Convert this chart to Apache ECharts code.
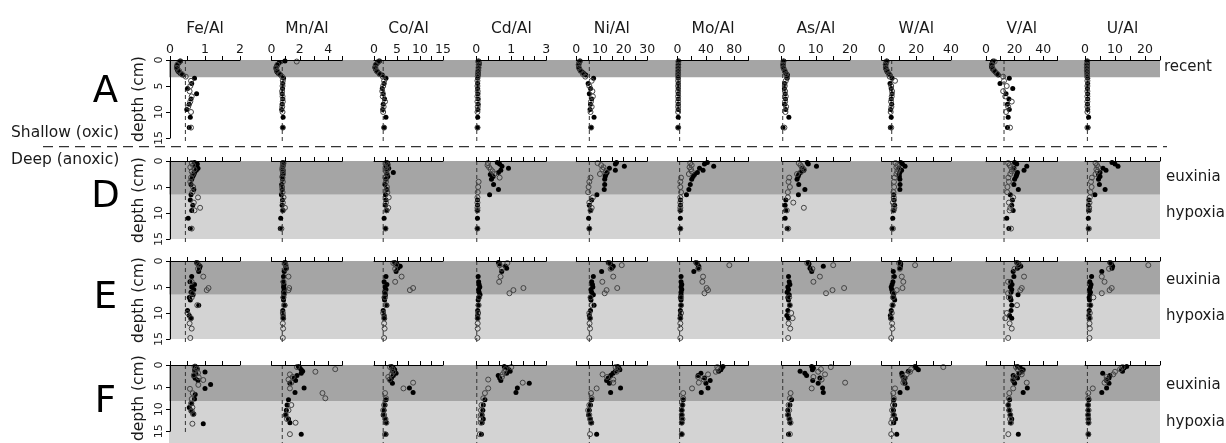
<!DOCTYPE html>
<html><head><meta charset="utf-8">
<script src="https://cdn.jsdelivr.net/npm/echarts@6/dist/echarts.min.js"></script>
<style>html,body{margin:0;padding:0;background:#fff}#c{width:1226px;height:443px}</style>
</head><body><div id="c"></div>
<script>
// ---------- categories / axes ----------
const elements = ['Fe/Al','Mn/Al','Co/Al','Cd/Al','Ni/Al','Mo/Al','As/Al','W/Al','V/Al','U/Al'];
const axisMax  = [2, 5, 15, 3, 30, 100, 20, 40, 50, 25];
const tickStep = [0.5, 1, 2.5, 0.5, 5, 20, 5, 10, 10, 5];
const labelValues = [[0,1,2],[0,2,4],[0,5,10,15],[0,1.5,3],[0,10,20,30],[0,40,80],[0,10,20],[0,20,40],[0,20,40],[0,10,20]];
const labelTexts  = [['0','1','2'],['0','2','4'],['0','5','10','15'],['0','1','3'],['0','10','20','30'],['0','40','80'],['0','10','20'],['0','20','40'],['0','20','40'],['0','10','20']];
const refValues = [0.44, 0.76, 2.0, 0.02, 5.5, 3, 0.3, 5.8, 12.6, 0.8];
const depthTicks = [0, 15, 5];
const rowLetters = ['A','D','E','F'];
const bandDarkBottom = [3.3, 6.5, 6.5, 6.9];
const bandLight = [false, true, true, true];

// ---------- depths (cm) ----------
const A_depth_f = [0.2,0.5,0.8,1.1,1.4,1.7,2.0,2.3,2.6,2.9,3.5,4.5,5.5,6.5,7.5,8.5,9.5,11,13];
const A_depth_o = [0.3,0.9,1.5,2.1,2.7,3.2,4.0,5.0,6.0,7.0,8.0,9.0,10.0,13.0];
const D_depth_f = [0.3,0.6,1.0,1.4,1.8,2.2,2.6,3.0,3.5,4.5,5.5,6.5,7.5,8.5,9.5,11,13];
const D_depth_o = [0.4,0.8,1.2,1.6,2.0,2.5,3.2,4.0,5.0,6.0,7.0,8.0,9.0,9.5,13];
const E_depth_f = [0.3,0.6,1.0,1.4,2.0,3.0,4.0,4.5,5.0,5.5,6.0,6.5,7.0,7.5,8.5,9.5,10.5,11.0];
const E_depth_o = [0.4,0.8,1.5,3.0,4.0,5.2,5.6,6.2,7.0,8.5,10.0,11.0,12.0,13.0,14.8];
const F_depth_f = [0.3,0.6,0.9,1.2,1.6,2.0,2.5,3.0,3.5,4.4,5.3,6.7,7.7,8.7,9.6,10.4,11.1,13.3];
const F_depth_o = [0.4,0.8,1.3,1.8,2.3,2.8,3.4,4.5,5.4,6.4,7.7,8.7,9.6,10.4,11.1,13.3];

// ---------- row A (shallow, oxic) ----------
const A_Fe_f = [0.30,0.26,0.22,0.20,0.19,0.20,0.22,0.25,0.30,0.36,0.70,0.62,0.50,0.76,0.60,0.55,0.48,0.58,0.55];
const A_Fe_o = [0.28,0.21,0.20,0.26,0.34,0.45,0.60,0.58,0.56,0.62,0.58,0.52,0.60,0.60];
const A_Mn_f = [0.95,0.55,0.45,0.38,0.33,0.32,0.35,0.40,0.50,0.65,0.85,0.80,0.78,0.75,0.80,0.75,0.72,0.82,0.80];
const A_Mn_o = [1.78,0.42,0.34,0.40,0.58,0.75,0.80,0.78,0.75,0.78,0.80,0.76,0.78,0.80];
const A_Co_f = [1.2,0.8,0.5,0.3,0.2,0.3,0.5,0.8,1.2,1.8,2.6,2.2,1.8,2.0,2.3,2.0,1.9,2.6,2.2];
const A_Co_o = [1.0,0.4,0.3,0.6,1.2,1.9,2.2,2.0,1.8,1.9,2.4,2.1,2.0,2.2];
const A_Cd_f = [0.10,0.12,0.12,0.10,0.10,0.10,0.10,0.08,0.08,0.08,0.06,0.06,0.06,0.07,0.08,0.08,0.07,0.06,0.06];
const A_Cd_o = [0.08,0.10,0.09,0.08,0.07,0.06,0.05,0.05,0.06,0.05,0.05,0.06,0.05,0.05];
const A_Ni_f = [1.6,1.2,1.0,0.9,1.0,1.3,1.8,2.5,3.2,4.0,7.3,5.0,6.0,5.5,6.5,6.0,5.8,7.5,6.2];
const A_Ni_o = [1.4,1.0,1.1,1.8,2.8,3.8,6.5,5.5,6.8,7.0,6.2,6.5,6.0,6.3];
const A_Mo_f = [1.5,1.5,1.4,1.3,1.2,1.2,1.2,1.1,1.1,1.0,1.0,1.0,1.0,1.0,1.0,1.0,1.0,1.0,1.0];
const A_Mo_o = [1.2,1.1,1.0,1.0,1.0,0.9,0.9,0.9,0.9,0.9,0.9,0.9,0.9,0.9];
const A_As_f = [0.6,0.5,0.4,0.4,0.5,0.6,0.8,1.0,1.3,1.7,1.6,0.9,0.8,1.0,1.1,0.9,1.2,2.1,0.4];
const A_As_o = [0.5,0.4,0.5,0.9,1.3,1.5,1.2,0.9,1.0,1.2,1.0,1.3,1.1,0.8];
const A_W_f  = [3.0,2.6,2.3,2.2,2.2,2.4,2.8,3.3,4.0,4.8,6.0,4.8,5.5,6.0,5.5,5.8,5.2,5.5,5.0];
const A_W_o  = [2.8,2.3,2.4,3.2,4.2,4.6,7.7,5.5,6.0,5.8,5.4,5.6,5.2,5.5];
const A_V_f  = [5.0,4.5,4.0,3.8,4.0,4.5,5.5,6.5,7.5,8.6,16.3,9.8,18.7,14.0,16.0,15.0,16.3,15.5,15.0];
const A_V_o  = [6.0,4.2,4.5,6.0,8.0,12.0,12.6,14.5,12.0,13.5,18.0,15.5,14.0,16.8];
const A_U_f  = [0.8,0.8,0.7,0.7,0.7,0.7,0.7,0.7,0.8,0.8,0.9,0.9,0.8,0.9,0.9,0.8,0.9,1.2,1.0];
const A_U_o  = [0.7,0.6,0.6,0.6,0.7,0.7,0.8,0.8,0.8,0.8,0.8,0.8,0.8,0.8];

// ---------- row D ----------
const D_Fe_f = [0.70,0.78,0.72,0.80,0.75,0.70,0.68,0.65,0.62,0.60,0.68,0.60,0.58,0.65,0.62,0.52,0.58];
const D_Fe_o = [0.62,0.66,0.58,0.70,0.62,0.65,0.60,0.58,0.66,0.64,0.80,0.68,0.86,0.70,0.62];
const D_Mn_f = [0.80,0.85,0.80,0.78,0.82,0.80,0.80,0.75,0.78,0.72,0.75,0.70,0.78,0.75,0.80,0.65,0.62];
const D_Mn_o = [0.85,0.80,0.78,0.75,0.80,0.82,0.78,0.80,0.75,0.78,0.85,0.80,0.95,0.80,0.70];
const D_Co_f = [2.8,3.0,2.6,3.2,2.8,4.2,2.8,3.0,2.6,2.4,2.8,2.5,2.6,2.5,2.8,2.2,2.5];
const D_Co_o = [2.6,3.0,2.5,2.8,2.6,2.8,2.5,2.6,2.8,2.9,3.2,2.6,3.1,2.7,2.5];
const D_Cd_f = [0.90,1.00,1.10,1.38,1.05,0.95,0.60,0.72,0.65,0.74,0.95,0.57,0.05,0.05,0.05,0.05,0.05];
const D_Cd_o = [0.50,0.48,0.55,0.62,0.70,0.78,1.00,0.10,0.08,0.06,0.05,0.05,0.05,0.05,0.05];
const D_Ni_f = [17.0,16.5,20.3,14.0,16.5,13.0,12.5,12.2,12.0,12.0,11.8,8.7,6.5,5.5,6.0,5.2,5.5];
const D_Ni_o = [9.0,10.5,11.5,11.0,12.5,10.0,6.0,5.5,5.2,5.0,7.0,5.5,6.5,6.0,5.5];
const D_Mo_f = [42,38,51,31,36,28,24,22,20,18,16,12.6,4,4,4,4,4];
const D_Mo_o = [18,20,17,19,20,16,5,4,4,5,4,4,4,4,4];
const D_As_f = [7.5,7.8,10.2,6.0,6.5,5.5,5.0,4.8,4.5,5.0,6.8,4.9,1.2,1.0,1.2,1.0,1.6];
const D_As_o = [5.0,5.5,6.0,6.5,5.8,4.5,2.2,2.0,2.4,1.8,1.8,3.4,6.5,1.5,1.9];
const D_W_f  = [11,12,13.5,10,11.5,10.5,10.0,10.2,10.5,10.6,10.5,7.0,7.2,7.5,7.0,6.4,6.0];
const D_W_o  = [8.0,9.0,8.5,9.6,9.0,8.5,7.5,7.1,7.2,6.8,7.0,6.5,7.3,6.8,6.5];
const D_V_f  = [20,21.5,28.5,19.5,26.6,22.0,21.5,21.0,20.0,19.5,22.6,17.0,18.5,18.0,19.0,14.5,16.0];
const D_V_o  = [15.5,16.5,17.5,19.0,18.0,17.0,15.6,16.0,15.0,14.8,19.0,16.0,17.0,16.5,17.5];
const D_U_f  = [9.0,10.0,11.0,6.0,7.0,5.0,4.5,5.0,4.5,4.8,6.7,3.3,1.3,1.2,1.2,1.1,1.1];
const D_U_o  = [3.5,4.0,4.4,3.8,4.2,3.5,2.3,2.0,2.2,1.8,1.6,1.5,1.4,1.4,1.3];

// ---------- row E ----------
const E_Fe_f = [0.76,0.80,0.86,0.84,0.82,0.62,0.57,0.70,0.62,0.68,0.60,0.66,0.55,0.58,0.82,0.50,0.55,0.60];
const E_Fe_o = [0.78,0.82,0.80,0.95,0.62,1.10,1.05,0.64,0.62,0.78,0.50,0.60,0.56,0.62,0.58];
const E_Mn_f = [0.95,0.95,1.0,1.05,0.90,0.85,0.82,0.88,0.85,0.90,0.85,0.88,0.82,0.85,0.95,0.80,0.82,0.85];
const E_Mn_o = [0.95,1.0,1.0,1.2,0.85,1.25,1.2,0.90,0.85,0.90,0.80,0.82,0.80,0.82,0.80];
const E_Co_f = [4.5,5.0,5.7,5.2,4.8,2.6,2.2,2.8,2.4,2.6,2.3,2.5,2.2,2.3,2.8,2.0,2.2,2.3];
const E_Co_o = [4.2,4.8,4.6,6.0,4.6,8.5,7.8,2.4,2.4,2.6,2.0,2.2,2.2,2.3,2.2];
const E_Cd_f = [0.95,1.0,1.25,1.3,1.09,0.08,0.10,0.12,0.15,0.10,0.12,0.16,0.10,0.08,0.08,0.06,0.06,0.06];
const E_Cd_o = [1.33,1.0,1.1,1.04,0.98,2.02,1.59,1.42,0.12,0.10,0.08,0.06,0.06,0.06,0.05];
const E_Ni_f = [13.5,14.5,15.6,15.0,10.7,7.2,6.5,6.8,7.0,6.2,6.5,7.2,6.0,6.2,7.5,6.0,5.5,5.8];
const E_Ni_o = [14.0,19.2,14.5,15.6,11.0,17.3,12.8,12.0,6.0,6.5,5.5,5.8,5.6,5.8,5.5];
const E_Mo_f = [26,28,30,29,23,5,5,6,5,6,5,5,4,5,5,4,4,4];
const E_Mo_o = [27,73,30,36,35,41,43,38,5,5,5,4,4,4,4];
const E_As_f = [7.8,8.0,12.2,8.3,8.8,2.0,2.2,2.4,1.8,2.0,1.6,2.2,1.8,2.0,2.3,1.8,1.5,2.0];
const E_As_o = [7.5,15.1,9.0,11.2,9.3,18.3,14.9,13.0,2.2,2.4,2.8,3.2,2.0,2.5,1.9];
const E_W_f  = [10.6,11.0,10.8,10.5,6.7,7.3,6.5,6.0,5.5,5.8,6.2,6.8,7.0,7.5,6.5,5.5,5.0,5.2];
const E_W_o  = [10.0,19.3,10.5,11.6,12.5,12.0,8.7,7.0,6.5,6.2,5.8,5.5,6.0,6.2,5.5];
const E_V_f  = [21.5,23,24.3,22,19,19.5,17.3,18.2,17,18,17.5,22.4,17,17.5,18.0,17.5,16.5,18.0];
const E_V_o  = [22,23,20,26.6,15.4,25,24,15.4,16.0,21.7,14.6,13.5,16.5,18.0,15.5];
const E_U_f  = [8.3,8.8,9.2,9.0,5.6,2.2,1.6,2.0,1.8,1.5,1.8,1.6,1.4,1.5,1.8,1.4,1.3,1.4];
const E_U_o  = [8.5,21.1,8.0,5.6,6.5,8.9,8.2,5.6,2.8,1.8,1.6,1.6,1.5,1.6,1.5];

// ---------- row F ----------
const F_Fe_f = [0.72,0.75,0.78,0.70,1.0,0.74,0.68,0.72,0.80,1.16,1.0,0.72,0.70,0.62,0.55,0.60,0.68,0.95];
const F_Fe_o = [0.70,0.76,0.72,0.80,0.68,0.82,0.95,0.81,0.57,0.65,0.62,0.60,0.64,0.62,0.66,0.64];
const F_Mn_f = [1.9,2.0,2.1,2.2,2.1,1.8,1.6,1.7,1.3,2.3,1.66,1.2,1.1,1.05,1.0,1.2,1.3,2.1];
const F_Mn_o = [1.8,4.5,3.1,1.3,1.5,1.2,1.4,1.3,3.6,3.8,1.4,1.2,1.0,1.1,1.7,1.3];
const F_Co_f = [3.8,4.2,4.5,4.0,4.8,4.2,3.8,3.6,4.0,7.7,8.5,2.6,2.4,2.2,2.0,2.4,2.6,2.6];
const F_Co_o = [3.5,4.0,4.2,3.8,3.1,3.4,8.5,6.4,2.4,2.6,2.2,2.0,2.2,2.5,2.7,2.4];
const F_Cd_f = [1.2,1.3,1.4,1.45,1.3,0.94,1.0,1.05,2.27,1.76,1.7,0.37,0.30,0.28,0.25,0.30,0.25,0.22];
const F_Cd_o = [1.5,1.25,1.2,1.13,1.1,0.51,1.99,0.51,0.37,0.30,0.22,0.20,0.20,0.18,0.20,0.15];
const F_Ni_f = [17.5,18,18.4,16.5,15.5,14.5,13.5,12.8,14.0,18.7,14.5,6.5,6.0,5.5,5.2,6.0,6.5,8.6];
const F_Ni_o = [16.6,17.5,17.0,11.1,13.0,15.6,15.6,8.6,6.2,6.5,5.5,5.0,5.5,5.8,6.2,5.8];
const F_Mo_f = [64,62,61,58,33,29,38,46,40,43,33.5,8,7,6,6,6,6,6];
const F_Mo_o = [56,57,54,43,29,37,30,20.5,8,8,7,6,6,7,6,6];
const F_As_f = [8.8,9.3,9.0,5.4,6.8,7.3,11.2,9.1,10.7,12.0,12.2,2.9,2.4,1.8,2.0,2.2,2.4,2.0];
const F_As_o = [14.4,11.5,10.7,12.7,9.3,11.7,18.6,8.8,2.6,2.4,2.0,2.2,1.8,2.3,2.6,2.4];
const F_W_f  = [19.3,20,21.2,15.4,11.6,11.8,13.5,13.0,13.5,14.8,10.6,7.0,7.5,6.8,7.2,8.0,7.0,8.7];
const F_W_o  = [35.6,17,16.4,14.4,12.3,12.9,12.5,7.7,6.7,7.0,6.5,6.0,6.8,6.2,5.5,5.5];
const F_V_f  = [22,24,26,25,23,19,22,18.9,20,28.9,26,16.5,15.6,16.0,17,18,17,22.6];
const F_V_o  = [21,22,25,25,20,19,28.5,19,16.3,16,15.6,16.5,17,16.8,17.5,15.6];
const F_U_f  = [13.9,13.0,12.2,12.5,5.9,8.3,8.0,7.2,8.0,7.2,5.6,1.3,1.1,1.0,1.1,1.2,1.1,1.2];
const F_U_o  = [12.5,11.7,10.0,9.4,7.2,7.2,6.5,2.6,1.1,1.1,1.0,1.2,1.0,1.1,1.2,1.1];

// ---------- lookup tables built from the arrays ----------
const depthsF = [A_depth_f, D_depth_f, E_depth_f, F_depth_f];
const depthsO = [A_depth_o, D_depth_o, E_depth_o, F_depth_o];
const table = [
  [[A_Fe_f,A_Fe_o],[A_Mn_f,A_Mn_o],[A_Co_f,A_Co_o],[A_Cd_f,A_Cd_o],[A_Ni_f,A_Ni_o],[A_Mo_f,A_Mo_o],[A_As_f,A_As_o],[A_W_f,A_W_o],[A_V_f,A_V_o],[A_U_f,A_U_o]],
  [[D_Fe_f,D_Fe_o],[D_Mn_f,D_Mn_o],[D_Co_f,D_Co_o],[D_Cd_f,D_Cd_o],[D_Ni_f,D_Ni_o],[D_Mo_f,D_Mo_o],[D_As_f,D_As_o],[D_W_f,D_W_o],[D_V_f,D_V_o],[D_U_f,D_U_o]],
  [[E_Fe_f,E_Fe_o],[E_Mn_f,E_Mn_o],[E_Co_f,E_Co_o],[E_Cd_f,E_Cd_o],[E_Ni_f,E_Ni_o],[E_Mo_f,E_Mo_o],[E_As_f,E_As_o],[E_W_f,E_W_o],[E_V_f,E_V_o],[E_U_f,E_U_o]],
  [[F_Fe_f,F_Fe_o],[F_Mn_f,F_Mn_o],[F_Co_f,F_Co_o],[F_Cd_f,F_Cd_o],[F_Ni_f,F_Ni_o],[F_Mo_f,F_Mo_o],[F_As_f,F_As_o],[F_W_f,F_W_o],[F_V_f,F_V_o],[F_U_f,F_U_o]]
];

// ---------- layout (pixels) ----------
const rowTop = [60, 161, 261, 365];
const rowH = 78;
const colLeft  = [170, 271.5, 374, 476.3, 576.3, 677.5, 781.7, 881.7, 986, 1085];
const colWidth = [70, 70.8, 69, 70, 71, 71, 68.2, 69.2, 71.5, 75];
const FONT = 'DejaVu Sans';
const TXT = '#1a1a1a';
const DARK = '#a5a5a5', LIGHT = '#d3d3d3';

function zip(vals, depths) {
  const n = Math.min(vals.length, depths.length), out = [];
  for (let i = 0; i < n; i++) out.push([vals[i], depths[i]]);
  return out;
}

const option = { animation: false, backgroundColor: '#fff', grid: [], xAxis: [], yAxis: [], series: [], graphic: [] };

// background bands, one full-width grid per row
for (let r = 0; r < 4; r++) {
  option.grid.push({ left: 169, top: rowTop[r], width: 991, height: rowH });
  option.xAxis.push({ gridIndex: r, type: 'value', show: false, min: 0, max: 1 });
  option.yAxis.push({ gridIndex: r, type: 'value', show: false, inverse: true, min: 0, max: 15 });
  const areas = [[{ yAxis: 0, itemStyle: { color: DARK, opacity: 1 } }, { yAxis: bandDarkBottom[r] }]];
  if (bandLight[r]) areas.push([{ yAxis: bandDarkBottom[r], itemStyle: { color: LIGHT, opacity: 1 } }, { yAxis: 15 }]);
  option.series.push({ type: 'scatter', xAxisIndex: r, yAxisIndex: r, data: [[0.5, 7]], symbolSize: 0, silent: true, z: 1,
    markArea: { silent: true, data: areas } });
}

// panels
for (let r = 0; r < 4; r++) {
  for (let c = 0; c < 10; c++) {
    const gi = option.grid.length;
    option.grid.push({ left: colLeft[c], top: rowTop[r], width: colWidth[c], height: rowH });
    const lv = labelValues[c], lt = labelTexts[c];
    option.xAxis.push({
      gridIndex: gi, type: 'value', position: 'top', min: 0, max: axisMax[c], interval: tickStep[c], z: 5,
      splitLine: { show: false },
      axisLine: { show: true, onZero: false, lineStyle: { color: '#000', width: 1 } },
      axisTick: { show: true, length: 4, lineStyle: { color: '#000' } },
      axisLabel: { show: r === 0, fontSize: 12.5, fontFamily: FONT, color: TXT, margin: 4,
        formatter: v => { const k = lv.findIndex(x => Math.abs(x - v) < 1e-6); return k >= 0 ? lt[k] : ''; } },
      name: r === 0 ? elements[c] : '', nameLocation: 'middle', nameGap: 23,
      nameTextStyle: { fontSize: 15.5, fontFamily: FONT, color: TXT }
    });
    option.yAxis.push({
      gridIndex: gi, type: 'value', inverse: true, min: depthTicks[0], max: depthTicks[1], interval: depthTicks[2],
      show: c === 0, position: 'left', z: 5,
      splitLine: { show: false },
      axisLine: { show: true, onZero: false, lineStyle: { color: '#000', width: 1 } },
      axisTick: { show: true, length: 4, lineStyle: { color: '#000' } },
      axisLabel: { rotate: 90, fontSize: 11, fontFamily: FONT, color: TXT, margin: 5 },
      name: 'depth (cm)', nameLocation: 'middle', nameRotate: 90, nameGap: 23,
      nameTextStyle: { fontSize: 15.5, fontFamily: FONT, color: TXT }
    });
    const [vf, vo] = table[r][c];
    option.series.push({ type: 'line', xAxisIndex: gi, yAxisIndex: gi, data: [[refValues[c], 0], [refValues[c], 15.8]],
      symbol: 'none', clip: false, silent: true, z: 3, lineStyle: { type: [4, 3], color: '#333', width: 1 } });
    option.series.push({ type: 'scatter', xAxisIndex: gi, yAxisIndex: gi, data: zip(vf, depthsF[r]), symbol: 'circle',
      symbolSize: 5, clip: false, silent: true, z: 4, itemStyle: { color: '#000', opacity: 1 } });
    option.series.push({ type: 'scatter', xAxisIndex: gi, yAxisIndex: gi, data: zip(vo, depthsO[r]), symbol: 'circle',
      symbolSize: 5, clip: false, silent: true, z: 4,
      itemStyle: { color: 'rgba(255,255,255,0)', borderColor: '#444', borderWidth: 1, opacity: 1 } });
  }
}

// text annotations
const letterY = [92, 197, 298, 402];
rowLetters.forEach((t, r) => option.graphic.push({ type: 'text', x: 105.5, y: letterY[r],
  style: { text: t, fontSize: 37, fontFamily: FONT, fill: '#000', align: 'center', verticalAlign: 'middle' } }));
function label(t, x, y, fs) {
  option.graphic.push({ type: 'text', x: x, y: y, style: { text: t, fontSize: fs, fontFamily: FONT, fill: TXT, align: 'left', verticalAlign: 'middle' } });
}
label('Shallow (oxic)', 11, 133, 15.5);
label('Deep (anoxic)', 11, 160, 15.5);
label('recent', 1164, 67, 15);
label('euxinia', 1166, 177, 15); label('hypoxia', 1166, 213, 15);
label('euxinia', 1166, 280, 15); label('hypoxia', 1166, 316, 15);
label('euxinia', 1166, 385, 15); label('hypoxia', 1166, 422, 15);
option.graphic.push({ type: 'line', shape: { x1: 43, y1: 146.7, x2: 1167, y2: 146.7 },
  style: { stroke: '#333', lineWidth: 1.3, lineDash: [10, 6] } });

const chart = echarts.init(document.getElementById('c'), null, { renderer: 'canvas' });
chart.setOption(option);
</script></body></html>
